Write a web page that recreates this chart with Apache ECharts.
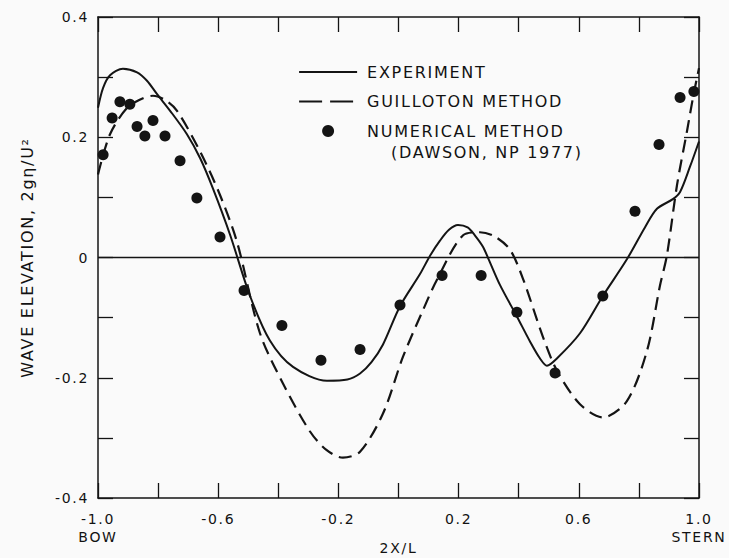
<!DOCTYPE html>
<html>
<head>
<meta charset="utf-8">
<script src="https://cdn.jsdelivr.net/npm/echarts@6/dist/echarts.min.js"></script>
<style>
html,body{margin:0;padding:0;background:#fafafa;}
#chart{width:729px;height:558px;}
#chart text{letter-spacing:1.7px;}
</style>
</head>
<body>
<div id="chart"></div>
<script>
// Experiment (solid line)
const expX = [-1.0, -0.983, -0.96, -0.917, -0.87, -0.837, -0.804, -0.76, -0.704, -0.66, -0.617, -0.56, -0.494, -0.428, -0.351, -0.238, -0.17, -0.128, -0.09, -0.052, 0.005, 0.071, 0.105, 0.138, 0.168, 0.198, 0.23, 0.254, 0.281, 0.3, 0.338, 0.394, 0.438, 0.471, 0.494, 0.527, 0.604, 0.68, 0.76, 0.82, 0.86, 0.913, 0.937, 0.97, 1.0];
const expY = [0.249, 0.282, 0.303, 0.314, 0.308, 0.294, 0.272, 0.244, 0.205, 0.165, 0.114, 0.037, -0.064, -0.138, -0.182, -0.205, -0.203, -0.193, -0.174, -0.145, -0.081, -0.028, 0.003, 0.028, 0.046, 0.054, 0.05, 0.037, 0.018, -0.003, -0.046, -0.098, -0.14, -0.168, -0.18, -0.168, -0.126, -0.064, -0.003, 0.05, 0.081, 0.097, 0.109, 0.151, 0.193];
// Guilloton method (dashed line)
const guiX = [-1.0, -0.96, -0.903, -0.85, -0.817, -0.777, -0.737, -0.66, -0.594, -0.537, -0.461, -0.384, -0.295, -0.24, -0.185, -0.128, -0.052, 0.015, 0.082, 0.128, 0.215, 0.271, 0.32, 0.371, 0.414, 0.48, 0.527, 0.604, 0.68, 0.76, 0.827, 0.87, 0.893, 0.927, 0.96, 0.98, 1.0];
const guiY = [0.138, 0.205, 0.249, 0.265, 0.269, 0.262, 0.244, 0.176, 0.104, 0.025, -0.126, -0.21, -0.289, -0.32, -0.333, -0.323, -0.26, -0.165, -0.087, -0.037, 0.037, 0.042, 0.035, 0.013, -0.035, -0.131, -0.188, -0.244, -0.266, -0.239, -0.155, -0.047, 0.003, 0.121, 0.21, 0.266, 0.315];
// Numerical method (dots)
const numX = [-0.983, -0.953, -0.927, -0.894, -0.87, -0.844, -0.817, -0.777, -0.727, -0.671, -0.594, -0.514, -0.388, -0.258, -0.128, 0.005, 0.145, 0.275, 0.394, 0.521, 0.68, 0.787, 0.867, 0.937, 0.983];
const numY = [0.171, 0.232, 0.259, 0.255, 0.218, 0.202, 0.228, 0.202, 0.161, 0.099, 0.034, -0.055, -0.113, -0.171, -0.153, -0.079, -0.03, -0.03, -0.091, -0.192, -0.064, 0.077, 0.188, 0.266, 0.276];

const xTickLabels = {'-1.0': '-1.0\nBOW', '-0.6': '-0.6', '-0.2': '-0.2', '0.2': '0.2', '0.6': '0.6', '1.0': '1.0\nSTERN'};
const yTickLabels = {'0.4': '0.4', '0.2': '0.2', '0.0': '0', '-0.2': '-0.2', '-0.4': '-0.4'};
const seriesNames = ['EXPERIMENT', 'GUILLOTON METHOD', 'NUMERICAL METHOD'];
const legendNote = '(DAWSON, NP 1977)';

const zip = (a, b) => a.map((v, i) => [v, b[i]]);
const ink = '#141414';
const textCol = '#121212';
const font = 'DejaVu Sans';

const chart = echarts.init(document.getElementById('chart'), null, {renderer: 'svg'});
const axisCommon = {
  axisLine: {show: true, onZero: false, lineStyle: {color: ink, width: 1.5}},
  axisTick: {show: true, inside: true, length: 15, lineStyle: {color: ink, width: 1.3}},
  splitLine: {show: false}
};
const noIcon = {color: 'rgba(0,0,0,0)', borderWidth: 0};
chart.setOption({
  backgroundColor: '#fafafa',
  animation: false,
  grid: {left: 98, right: 30, top: 17, bottom: 60, outerBoundsMode: 'none', containLabel: false},
  legend: {
    orient: 'vertical', left: 293, top: 59, itemWidth: 58, itemHeight: 12, itemGap: 13.5,
    textStyle: {fontFamily: font, fontSize: 16, color: textCol, padding: [0, 0, 0, 5]},
    data: [
      {name: seriesNames[0], itemStyle: noIcon},
      {name: seriesNames[1], itemStyle: noIcon, lineStyle: {type: [23, 8], width: 2.2}},
      {name: seriesNames[2], icon: 'circle', itemStyle: {color: ink, opacity: 1}}
    ]
  },
  graphic: [{
    type: 'text', left: 391, top: 144,
    style: {text: legendNote, font: '16px "DejaVu Sans"', fill: textCol}
  }],
  xAxis: [
    Object.assign({
      type: 'value', min: -1, max: 1, interval: 0.2, position: 'bottom',
      name: '2X/L', nameLocation: 'middle', nameGap: 43, nameMoveOverlap: false,
      nameTextStyle: {fontFamily: font, fontSize: 14, color: textCol, verticalAlign: 'top'},
      axisLabel: {
        margin: 12, fontFamily: font, fontSize: 14, color: textCol, lineHeight: 18,
        formatter: v => xTickLabels[(Math.round(v * 10) / 10).toFixed(1)] || ''
      }
    }, axisCommon),
    Object.assign({
      type: 'value', min: -1, max: 1, interval: 0.2, position: 'top',
      axisLabel: {show: false}
    }, axisCommon)
  ],
  yAxis: [
    Object.assign({
      type: 'value', min: -0.4, max: 0.4, interval: 0.1, position: 'left',
      name: 'WAVE ELEVATION, 2gη/U²', nameLocation: 'middle', nameGap: 63, nameRotate: 90, nameMoveOverlap: false,
      nameTextStyle: {fontFamily: font, fontSize: 16, color: textCol},
      axisLabel: {
        margin: 9, fontFamily: font, fontSize: 14, color: textCol,
        formatter: v => yTickLabels[(Math.round(v * 10) / 10).toFixed(1)] || ''
      }
    }, axisCommon),
    Object.assign({
      type: 'value', min: -0.4, max: 0.4, interval: 0.1, position: 'right',
      axisLabel: {show: false}
    }, axisCommon)
  ],
  series: [
    {
      name: seriesNames[0], type: 'line', xAxisIndex: 0, yAxisIndex: 0,
      data: zip(expX, expY), smooth: 0.3, symbol: 'none',
      lineStyle: {color: ink, width: 2},
      itemStyle: {color: ink},
      markLine: {
        silent: true, symbol: 'none', label: {show: false},
        lineStyle: {color: ink, width: 1.3, type: 'solid'},
        data: [{yAxis: 0}]
      }
    },
    {
      name: seriesNames[1], type: 'line', xAxisIndex: 0, yAxisIndex: 0,
      data: zip(guiX, guiY), smooth: 0.3, symbol: 'none',
      lineStyle: {color: ink, width: 2.2, type: [13, 7]},
      itemStyle: {color: ink}
    },
    {
      name: seriesNames[2], type: 'scatter', xAxisIndex: 0, yAxisIndex: 0,
      data: zip(numX, numY), symbol: 'circle', symbolSize: 11,
      itemStyle: {color: ink, opacity: 1}
    }
  ]
});
</script>
</body>
</html>
